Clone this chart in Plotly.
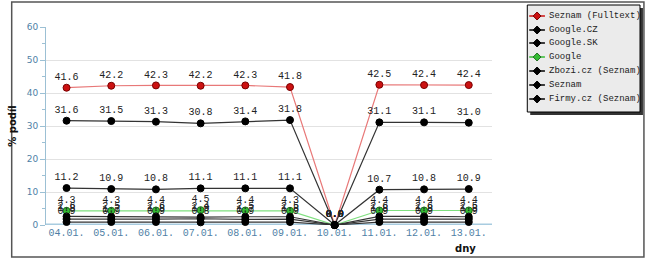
import plotly.graph_objects as go

days = ["04.01.", "05.01.", "06.01.", "07.01.", "08.01.", "09.01.", "10.01.", "11.01.", "12.01.", "13.01."]
seznam_fulltext = [41.6, 42.2, 42.3, 42.2, 42.3, 41.8, 0.0, 42.5, 42.4, 42.4]
google_cz = [31.6, 31.5, 31.3, 30.8, 31.4, 31.8, 0.0, 31.1, 31.1, 31.0]
google_sk = [11.2, 10.9, 10.8, 11.1, 11.1, 11.1, 0.0, 10.7, 10.8, 10.9]
google = [4.3, 4.3, 4.4, 4.5, 4.4, 4.3, 0.0, 4.4, 4.4, 4.4]
zbozi = [2.6, 2.5, 2.6, 2.4, 2.5, 2.5, 0.0, 2.6, 2.6, 2.5]
seznam = [1.8, 1.7, 1.8, 1.9, 1.7, 1.8, 0.0, 1.8, 1.8, 1.8]
firmy = [0.9, 0.9, 0.9, 0.8, 0.9, 0.9, 0.0, 0.9, 0.9, 0.9]

series = [
    ("Seznam (Fulltext)", seznam_fulltext, "#e87878", "#cc1111", "#7a0000"),
    ("Google.CZ", google_cz, "#333333", "#000000", "#000000"),
    ("Google.SK", google_sk, "#333333", "#000000", "#000000"),
    ("Google", google, "#7fdf7f", "#33bb33", "#1f6f1f"),
    ("Zbozi.cz (Seznam)", zbozi, "#333333", "#000000", "#000000"),
    ("Seznam", seznam, "#333333", "#000000", "#000000"),
    ("Firmy.cz (Seznam)", firmy, "#333333", "#000000", "#000000"),
]

MONO = "Liberation Mono"
L, R, T, B = 37, 158, 27, 35
W, H = 650, 260
pw, ph = W - L - R, H - T - B


def px(xp):
    return (xp - L) / pw


def py(yp):
    return (H - B - yp) / ph


fig = go.Figure()
x = list(range(len(days)))
for name, vals, lc, mc, oc in series:
    fig.add_trace(go.Scatter(
        x=x, y=vals, name=name, mode="lines+markers+text",
        line=dict(color=lc, width=1.2),
        marker=dict(color=mc, size=7, line=dict(color=oc, width=1)),
        text=[f"{v:.1f}" for v in vals], textposition="top center",
        textfont=dict(family=MONO, size=10, color="#222222"),
        cliponaxis=False, showlegend=False,
    ))

shapes = [
    # outer frame
    dict(type="rect", xref="paper", yref="paper", x0=px(2), x1=px(647), y0=py(257), y1=py(2),
         line=dict(color="#555555", width=1.5), layer="below"),
    # x axis thick base line
    dict(type="line", xref="paper", yref="y", x0=0, x1=1, y0=0, y1=0,
         line=dict(color="#a8cce0", width=3), layer="below"),
    # legend shadow
    dict(type="rect", xref="paper", yref="paper", x0=px(531), x1=px(646), y0=py(115), y1=py(8),
         fillcolor="#333333", line=dict(width=0), layer="above"),
    # legend box
    dict(type="rect", xref="paper", yref="paper", x0=px(528), x1=px(643), y0=py(112), y1=py(5),
         fillcolor="#ebebeb", line=dict(color="#000000", width=1), layer="above"),
]
annotations = []
row_y = [16, 30, 43, 57, 71, 85, 99]
for (name, vals, lc, mc, oc), ry in zip(series, row_y):
    shapes.append(dict(type="line", xref="paper", yref="paper", x0=px(530), x1=px(546), y0=py(ry), y1=py(ry),
                       line=dict(color=mc, width=1.5), layer="above"))
    cx, cy = 538, ry
    d = 4
    path = (f"M {px(cx - d)},{py(cy)} L {px(cx)},{py(cy - d)} L {px(cx + d)},{py(cy)} "
            f"L {px(cx)},{py(cy + d)} Z")
    shapes.append(dict(type="path", xref="paper", yref="paper", path=path,
                       fillcolor=mc, line=dict(color=oc, width=1), layer="above"))
    annotations.append(dict(xref="paper", yref="paper", x=px(548), y=py(ry), text=name,
                            xanchor="left", yanchor="middle", showarrow=False,
                            font=dict(family=MONO, size=9, color="#222222")))

annotations.append(dict(xref="paper", yref="paper", x=px(478), y=py(249), text="<b>dny</b>",
                        xanchor="right", yanchor="middle", showarrow=False,
                        font=dict(family="DejaVu Sans", size=10, color="#111111")))

fig.update_layout(
    width=W, height=H,
    margin=dict(l=L, r=R, t=T, b=B, pad=0),
    paper_bgcolor="white", plot_bgcolor="white",
    showlegend=False,
    xaxis=dict(
        range=[-0.46, 9.52], tickmode="array", tickvals=x, ticktext=days,
        showgrid=False, zeroline=False, showline=False, ticks="",
        tickfont=dict(family=MONO, size=10, color="#4f7fa6"),
        fixedrange=True,
    ),
    yaxis=dict(
        range=[0, 60], tickvals=[0, 10, 20, 30, 40, 50, 60],
        showgrid=True, gridcolor="#e2e2e2", gridwidth=1, zeroline=False,
        showline=True, linecolor="#9cc0d4", linewidth=1,
        ticks="outside", ticklen=5, tickcolor="#9cc0d4",
        minor=dict(tickvals=[5, 15, 25, 35, 45, 55], ticks="outside", ticklen=3, tickcolor="#9cc0d4"),
        tickfont=dict(family="DejaVu Sans", size=9, color="#4f7fa6"),
        title=dict(text="<b>% podíl</b>", font=dict(family="DejaVu Sans", size=10, color="#111111"), standoff=8),
        fixedrange=True,
    ),
    shapes=shapes,
    annotations=annotations,
)

fig.write_html("out.html")
